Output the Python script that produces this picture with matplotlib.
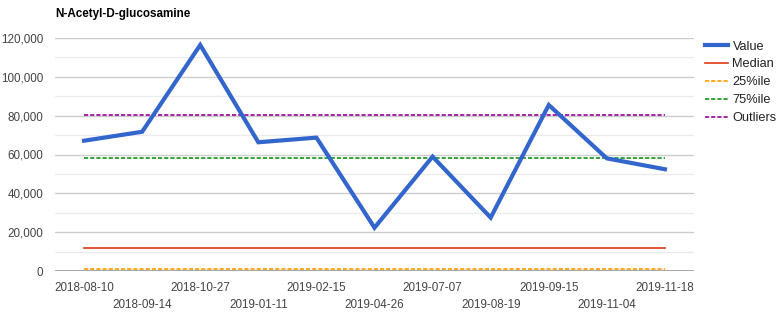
import matplotlib
matplotlib.use("Agg")
import matplotlib.pyplot as plt
from matplotlib.ticker import FuncFormatter, MultipleLocator

plt.rcParams['font.family'] = ['Liberation Sans', 'DejaVu Sans']

title = "N-Acetyl-D-glucosamine"
dates = ["2018-08-10", "2018-09-14", "2018-10-27", "2019-01-11", "2019-02-15",
         "2019-04-26", "2019-07-07", "2019-08-19", "2019-09-15", "2019-11-04",
         "2019-11-18"]
values = [67100, 71700, 116400, 66300, 68700, 22300, 58900, 27500, 85500, 58000, 52400]
median = 12000
p25 = 800
p75 = 58000
outliers = 80600

fig = plt.figure(figsize=(7.76, 3.12), dpi=100)
ax = fig.add_axes([55/776, 1 - 271/312, (694-55)/776, (271-38)/312])

x = list(range(len(dates)))
n = len(dates)
ax.plot(x, values, color="#3366CC", lw=3.0, label="Value", zorder=5, solid_joinstyle='miter')
ax.plot(x, [median]*n, color="#DC3912", lw=1.2, label="Median", zorder=4)
ax.plot(x, [p25]*n, color="#FF9900", lw=1.2, ls=(0, (2.5, 1.2)), label="25%ile", zorder=4)
ax.plot(x, [p75]*n, color="#109618", lw=1.2, ls=(0, (2.5, 1.2)), label="75%ile", zorder=4)
ax.plot(x, [outliers]*n, color="#990099", lw=1.2, ls=(0, (2.5, 1.2)), label="Outliers", zorder=4)

ax.set_xlim(-0.5, n - 0.5)
ax.set_ylim(0, 120000)
ax.yaxis.set_major_locator(MultipleLocator(20000))
ax.yaxis.set_minor_locator(MultipleLocator(10000))
ax.yaxis.set_major_formatter(FuncFormatter(lambda v, p: f"{int(v):,}"))
ax.grid(axis='y', which='major', color="#cccccc", lw=1.0, zorder=0)
ax.grid(axis='y', which='minor', color="#ebebeb", lw=1.0, zorder=0)
ax.axhline(0, color="#999999", lw=1.2, zorder=3)
for s in ax.spines.values():
    s.set_visible(False)
ax.tick_params(axis='both', which='both', length=0, labelsize=8.4, labelcolor="#444444")
ax.tick_params(axis='y', pad=8.5)

ax.set_xticks(x)
ax.set_xticklabels([d if i % 2 == 0 else "\n" + d for i, d in enumerate(dates)])
ax.tick_params(axis='x', pad=8)
for lbl in ax.get_xticklabels():
    lbl.set_linespacing(1.55)

fig.text(55/776, 1 - 14/312, title, fontsize=8.4, fontweight='bold', ha='left', va='center', color="#000000")

leg = ax.legend(loc='upper left', bbox_to_anchor=(705/776, 1 - 40.5/312), bbox_transform=fig.transFigure,
                frameon=False, fontsize=9.2, handlelength=1.8, handletextpad=0.35,
                labelspacing=0.46, borderaxespad=0, borderpad=0)
for t in leg.get_texts():
    t.set_color("#222222")

fig.savefig("out.png", dpi=100)
